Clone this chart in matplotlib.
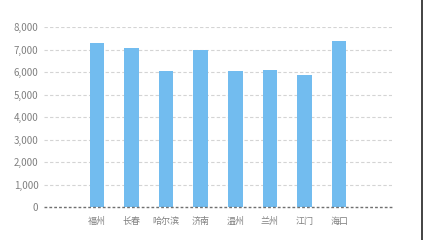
import matplotlib
matplotlib.use("Agg")
import matplotlib.pyplot as plt
from matplotlib.lines import Line2D

plt.rcParams["font.family"] = ["Noto Sans CJK SC", "DejaVu Sans"]

cities = ["福州", "长春", "哈尔滨", "济南", "温州", "兰州", "江门", "海口"]
values = [7300, 7050, 6050, 7000, 6050, 6100, 5850, 7400]
y_ticks = [0, 1000, 2000, 3000, 4000, 5000, 6000, 7000, 8000]

bar_color = "#72bcef"
text_color = "#808080"

fig = plt.figure(figsize=(4.25, 2.4), dpi=100)
ax = fig.add_axes([44 / 425, 1 - 207 / 240, 348 / 425, 180 / 240])

for y in y_ticks[1:]:
    ax.axhline(y, color="#d4d4d4", linestyle=(0, (3, 2)), linewidth=0.8, zorder=0)
ax.axhline(0, color="#707070", linestyle=(0, (2, 1.5)), linewidth=1.0, zorder=3,
           clip_on=False)

ax.bar(range(len(cities)), values, width=0.42, color=bar_color, zorder=2)

ax.set_xlim(-1.53, len(cities) - 1 + 1.53)
ax.set_ylim(0, 8000)
ax.set_xticks(range(len(cities)))
ax.set_xticklabels(cities, fontsize=6.5, color=text_color)
ax.set_yticks(y_ticks)
ax.set_yticklabels([f"{v:,}" for v in y_ticks], fontsize=7, color=text_color)
ax.tick_params(length=0)
ax.tick_params(axis="y", pad=4)
ax.tick_params(axis="x", pad=7)
for s in ax.spines.values():
    s.set_visible(False)

fig.add_artist(Line2D([422 / 425, 422 / 425], [0, 1], color="#222222", linewidth=1.2))

fig.savefig("out.png", dpi=100)
